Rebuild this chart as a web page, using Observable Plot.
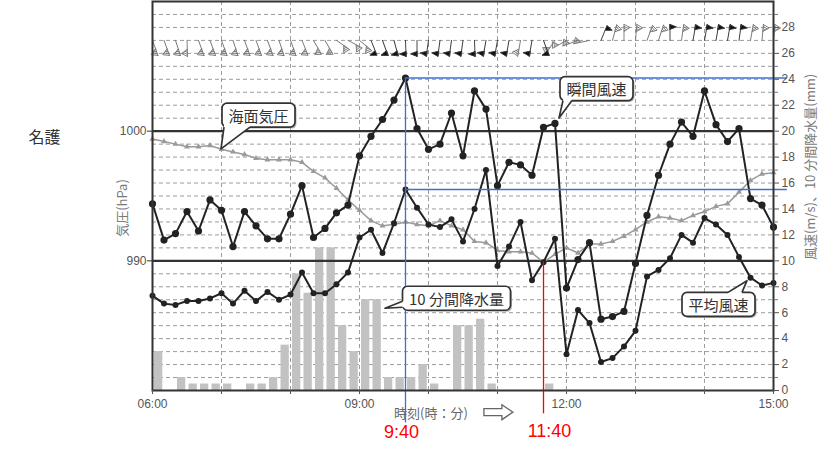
<!DOCTYPE html>
<html>
<head>
<meta charset="utf-8">
<script src="https://cdn.jsdelivr.net/npm/d3@7"></script>
<script src="https://cdn.jsdelivr.net/npm/@observablehq/plot@0.6"></script>
<style>
  body { margin: 0; background: #fff; }
  #chart svg { display: block; }
</style>
</head>
<body>
<div id="chart"></div>
<script>
// 名護: 10-minute observations, 06:00–15:00
const station = "名護";
const startHour = 6;
const stepMinutes = 10;

// sea-level pressure (hPa)
const pressure = [
  999.4, 999.2, 999.0, 998.8, 998.8, 998.9, 998.6, 998.4, 998.2, 997.9,
  997.8, 997.8, 997.8, 997.6, 996.9, 996.4, 995.6, 994.7, 993.9, 993.1,
  992.7, 992.8, 993.0, 992.8, 992.7, 993.1, 992.7, 992.4, 991.5, 991.4,
  990.8, 990.7, 990.7, 990.6, 989.9, 990.5, 991.0, 990.6, 991.3, 991.3,
  991.5, 991.9, 992.4, 993.0, 993.4, 993.3, 993.1, 993.5, 993.8, 994.2,
  994.4, 995.3, 996.2, 996.7, 996.8
];

// maximum instantaneous wind speed (m/s)
const gust = [
  14.4, 11.6, 12.1, 13.8, 12.3, 14.7, 13.9, 11.1, 13.8, 12.7,
  11.7, 11.7, 13.6, 15.8, 11.8, 12.5, 13.7, 14.3, 18.1, 19.6,
  20.9, 22.4, 24.1, 20.2, 18.6, 19.0, 21.4, 18.1, 23.1, 21.7,
  15.8, 17.6, 17.4, 16.6, 20.3, 20.6, 7.9, 10.1, 11.4, 5.5,
  5.7, 6.1, 9.8, 13.5, 16.6, 19.0, 20.7, 19.6, 23.1, 20.5,
  19.2, 20.2, 14.8, 14.3, 12.6
];

// 10-minute mean wind speed (m/s)
const meanWind = [
  7.3, 6.7, 6.6, 6.9, 6.9, 7.1, 7.5, 6.7, 7.7, 6.9,
  7.6, 7.0, 7.4, 9.1, 7.5, 7.5, 8.2, 9.1, 11.8, 12.4,
  10.6, 12.9, 15.5, 14.1, 12.8, 12.6, 13.2, 11.5, 14.0, 17.0,
  9.6, 11.1, 13.0, 8.5, 9.9, 11.7, 2.8, 6.2, 5.2, 2.2,
  2.5, 3.4, 4.6, 8.8, 9.3, 10.2, 12.0, 11.4, 13.3, 12.8,
  12.0, 10.3, 8.7, 8.1, 8.3
];

// 10-minute precipitation (mm), one value per interval between observations
const rain = [
  3.0, 0, 1.0, 0.5, 0.5, 0.5, 0.5, 0, 0.5, 0.5,
  1.0, 3.5, 9.0, 7.5, 11.0, 11.0, 5.0, 3.0, 7.0, 7.0,
  1.0, 1.0, 1.0, 2.0, 0.5, 0, 5.0, 5.0, 5.5, 0.5,
  0, 0, 0, 0, 0.5, 0, 0, 0, 0, 0,
  0, 0, 0, 0, 0, 0, 0, 0, 0, 0,
  0, 0, 0, 0
];

// wind barbs: staff direction (degrees clockwise from up) and pennant style (1 = solid)
const barbRotate = [
  160, 160, 162, 178, 160, 160, 160, 162, 160, 160,
  160, 162, 160, 158, 150, 150, 125, 118, 130, 158,
  160, 165, 178, 180, 188, 188, 188, 188, 178, 190,
  190, 190, 190, 190, 160, 215, 240, 250, 258, 22,
  15, 0, 5, 20, 18, 0, 8, 10, 10, 10,
  10, 8, 10, 5, 5
];
const barbFilled = [
  0, 0, 0, 0, 0, 0, 0, 0, 0, 0,
  0, 0, 0, 0, 0, 0, 0, 0, 0, 1,
  1, 1, 1, 1, 1, 1, 1, 1, 1, 1,
  1, 1, 0, 1, 1, 0, 0, 0, 0, 1,
  0, 0, 0, 0, 0, 1, 0, 1, 1, 1,
  1, 1, 0, 0, 0
];

const labeledHours = [6, 9, 12, 15];
const pressureTicks = [990, 1000];
const pressureOffset = 980;           // left scale = right scale + 980 hPa
const windTicks = d3.range(0, 29, 2);
const barbLevel = 27;                 // row of wind barbs on the right scale

const leftTitle = "気圧(hPa)";
const rightTitle = "風速(m/s)、10 分間降水量(mm)";
const xTitle = "時刻(時：分)";
const calloutText = {pressure: "海面気圧", gust: "瞬間風速", rain: "10 分間降水量", mean: "平均風速"};

// ---- derived tables -------------------------------------------------------
const at = (h, m = 0) => new Date(Date.UTC(2000, 0, 1, h, m));
const times = pressure.map((_, i) => at(startHour, i * stepMinutes));
const rows = times.map((time, i) => ({
  time, hPa: pressure[i], gust: gust[i], mean: meanWind[i],
  rot: barbRotate[i], filled: barbFilled[i]
}));
const rainRows = rain.map((mm, k) => ({start: times[k], end: times[k + 1], mm})).filter(d => d.mm > 0);
const hours = d3.range(startHour, startHour + 10).map(h => at(h));
const innerHours = hours.slice(1, -1);
const gridLevels = d3.range(1, 30).filter(v => !pressureTicks.includes(v + pressureOffset));

const iGust = d3.maxIndex(gust);         // peak gust
const iLow = d3.minIndex(pressure);      // pressure minimum
const fmtHM = d3.utcFormat("%-H:%M");

// guide lines: peak gust (with the mean wind at that time) and the pressure minimum
const peakDrops = [{x: times[iGust], y1: gust[iGust], y2: -2.5}];
const peakLevels = [gust[iGust], meanWind[iGust]].map(v => ({y: v, x1: times[iGust], x2: at(15, 12)}));
const lowDrops = [{x: times[iLow], y1: pressure[iLow] - pressureOffset, y2: -1.8}];

// ---- wind barb shapes (drawn pointing up, rotated by the vector mark) ----
const hatchBarb = {
  draw(ctx, l) {
    ctx.moveTo(0, 0); ctx.lineTo(0, -l);
    ctx.moveTo(0, -l); ctx.lineTo(6, -l + 3); ctx.lineTo(0, -l + 7);
    for (const k of [2, 4, 6]) {
      const t = 1 - k / 7;
      ctx.moveTo(0, -l + k); ctx.lineTo(6 * t, -l + k + 3 * t);
    }
  }
};
const flagBarb = {
  draw(ctx, l) {
    ctx.moveTo(0, 0); ctx.lineTo(0, -l);
    ctx.moveTo(0, -l); ctx.lineTo(6.5, -l + 2.5); ctx.lineTo(0, -l + 5); ctx.closePath();
  }
};

const ink = "#222";
const jp = "'Noto Sans CJK JP', sans-serif";
const gridStyle = {stroke: "#9c9c9c", strokeDasharray: "4,3", strokeWidth: 1};

const chart = Plot.plot({
  width: 840,
  height: 458,
  marginTop: 1,
  marginRight: 67,
  marginBottom: 68,
  marginLeft: 152,
  style: {background: "#fff", fontFamily: "'Liberation Sans', 'Noto Sans CJK JP', sans-serif", fontSize: "12px", color: "#555"},
  x: {type: "utc", domain: [times[0], times[times.length - 1]]},
  y: {domain: [0, 30]},
  marks: [
    // dashed grid
    Plot.ruleY(gridLevels, gridStyle),
    Plot.ruleX(innerHours, gridStyle),
    // 10-minute precipitation
    Plot.rectY(rainRows, {x1: "start", x2: "end", y: "mm", fill: "#c2c2c2", insetLeft: 2, insetRight: 1.2}),
    // reference pressure levels
    Plot.ruleY(pressureTicks.map(p => p - pressureOffset), {stroke: "#333", strokeWidth: 2.2}),
    // sea-level pressure
    Plot.line(rows, {x: "time", y: d => d.hPa - pressureOffset, stroke: "#9a9a9a", strokeWidth: 1.5}),
    Plot.dot(rows, {x: "time", y: d => d.hPa - pressureOffset, symbol: "triangle", r: 2.2, fill: "#9a9a9a"}),
    // mean wind
    Plot.line(rows, {x: "time", y: "mean", stroke: ink, strokeWidth: 2}),
    Plot.dot(rows, {x: "time", y: "mean", r: 3, fill: ink}),
    // peak gust
    Plot.line(rows, {x: "time", y: "gust", stroke: ink, strokeWidth: 2}),
    Plot.dot(rows, {x: "time", y: "gust", r: 3.6, fill: ink}),
    // wind barbs
    Plot.vector(rows.filter(d => !d.filled), {x: "time", y: barbLevel, rotate: "rot", length: 16, anchor: "start",
      shape: hatchBarb, stroke: "#777", strokeWidth: 0.9}),
    Plot.vector(rows.filter(d => d.filled), {x: "time", y: barbLevel, rotate: "rot", length: 16, anchor: "start",
      shape: flagBarb, stroke: "#333", fill: "#111", strokeWidth: 0.9}),
    // guide lines
    Plot.ruleX(peakDrops, {x: "x", y1: "y1", y2: "y2", stroke: "#3f6fd0", strokeWidth: 1.3}),
    Plot.ruleY(peakLevels, {y: "y", x1: "x1", x2: "x2", stroke: "#3f6fd0", strokeWidth: 1.3}),
    Plot.ruleX(lowDrops, {x: "x", y1: "y1", y2: "y2", stroke: "#ff0000", strokeWidth: 1.3}),
    Plot.text([times[iGust]], {x: d => d, text: fmtHM, frameAnchor: "bottom", textAnchor: "middle", lineAnchor: "middle",
      dx: -4, dy: 42, fill: "#ff0000", fontSize: 18}),
    Plot.text([times[iLow]], {x: d => d, text: fmtHM, frameAnchor: "bottom", textAnchor: "middle", lineAnchor: "middle",
      dx: 6, dy: 41, fill: "#ff0000", fontSize: 18}),
    // frame and axes
    Plot.frame({stroke: "#333", strokeWidth: 2}),
    Plot.axisY({anchor: "left", ticks: pressureTicks.map(p => p - pressureOffset), tickFormat: d => String(d + pressureOffset),
      tickSize: 5, tickPadding: 1, label: null, stroke: "#333"}),
    Plot.axisY({anchor: "right", ticks: windTicks, tickFormat: d => String(d), tickSize: 5, tickPadding: 3, label: null, stroke: "#555"}),
    Plot.axisY({anchor: "right", ticks: windTicks.map(v => v + 1), tickSize: 4, tickFormat: () => "", label: null, stroke: "#777"}),
    Plot.axisX({ticks: labeledHours.map(h => at(h)), tickFormat: "%H:%M", tickSize: 0, tickPadding: 9, label: null}),
    Plot.axisX({ticks: hours, tickSize: 4, tickFormat: () => "", label: null, stroke: "#555"}),
    // titles
    Plot.text([station], {text: d => d, frameAnchor: "top-left", textAnchor: "middle", lineAnchor: "middle",
      dx: -108, dy: 136, fontSize: 16, fill: "#333", fontFamily: jp}),
    Plot.text([leftTitle], {text: d => d, frameAnchor: "left", textAnchor: "middle", lineAnchor: "middle",
      dx: -30, dy: 12, rotate: -90, fontSize: 13, fill: "#7a7a7a", fontFamily: jp}),
    Plot.text([rightTitle], {text: d => d, frameAnchor: "right", textAnchor: "middle", lineAnchor: "middle",
      dx: 37, dy: -29, rotate: -90, fontSize: 13, fill: "#7a7a7a", fontFamily: jp}),
    Plot.text([xTitle], {text: d => d, frameAnchor: "bottom", textAnchor: "middle", lineAnchor: "middle",
      dx: -32, dy: 23, fontSize: 13, fill: "#666", fontFamily: jp})
  ]
});

document.getElementById("chart").append(chart);

// ---- callout labels, attached to points through the chart's scales -------
const sx = chart.scale("x"), sy = chart.scale("y");
const svg = d3.select(chart);
const layer = svg.append("g");

const callouts = [
  {label: calloutText.pressure, x: times[6], y: pressure[6] - pressureOffset, box: [37.5, -33.7], side: "bottom", a: 2, b: 28, tip: [0, 0]},
  {label: calloutText.gust, x: times[35], y: gust[35], box: [42, -34.3], side: "bottom", a: 3, b: 12, tip: [4.5, -5]},
  {label: calloutText.rain, x: times[20], y: rain[19], box: [74.5, -1], side: "left", a: 15, b: 21, tip: [3, 9]},
  {label: calloutText.mean, x: times[52], y: meanWind[52], box: [-31.5, 27.2], side: "top", a: 46, b: 60, tip: [-3, 3.5]}
];

for (const c of callouts) {
  const px = sx.apply(c.x), py = sy.apply(c.y);
  const cx = px + c.box[0], cy = py + c.box[1];
  const g = layer.append("g");
  const text = g.append("text")
    .attr("x", cx).attr("y", cy)
    .attr("text-anchor", "middle").attr("dominant-baseline", "central")
    .attr("font-family", jp).attr("font-size", 15).attr("fill", "#333")
    .text(c.label);
  const w = text.node().getComputedTextLength() + 13, h = 24;
  const x0 = cx - w / 2, y0 = cy - h / 2, x1 = x0 + w, y1 = y0 + h;
  const tx = px + c.tip[0], ty = py + c.tip[1];
  g.insert("rect", "text").attr("x", x0 + 1.5).attr("y", y0 + 1.5).attr("width", w).attr("height", h)
    .attr("rx", 5).attr("fill", "#b5b5b5");
  g.insert("rect", "text").attr("x", x0).attr("y", y0).attr("width", w).attr("height", h)
    .attr("rx", 5).attr("fill", "#fff").attr("stroke", "#333").attr("stroke-width", 1.7);
  let p1, p2, q1, q2;
  if (c.side === "bottom") { p1 = [x0 + c.a, y1]; p2 = [x0 + c.b, y1]; q1 = [x0 + c.a, y1 - 3]; q2 = [x0 + c.b, y1 - 3]; }
  if (c.side === "top") { p1 = [x0 + c.a, y0]; p2 = [x0 + c.b, y0]; q1 = [x0 + c.a, y0 + 3]; q2 = [x0 + c.b, y0 + 3]; }
  if (c.side === "left") { p1 = [x0, y0 + c.a]; p2 = [x0, y0 + c.b]; q1 = [x0 + 3, y0 + c.a]; q2 = [x0 + 3, y0 + c.b]; }
  g.insert("path", "text").attr("d", d3.line()([q1, p1, [tx, ty], p2, q2]) + "Z").attr("fill", "#fff");
  g.insert("path", "text").attr("d", d3.line()([p1, [tx, ty], p2])).attr("fill", "none")
    .attr("stroke", "#333").attr("stroke-width", 1.7).attr("stroke-linejoin", "round");
}

// outlined arrow after the time-axis title
const xt = svg.selectAll("text").filter(function () { return this.textContent === xTitle; });
if (!xt.empty()) {
  const r = xt.node().getBoundingClientRect(), s = chart.getBoundingClientRect();
  const ax = r.right - s.left + 16, ay = (r.top + r.bottom) / 2 - s.top;
  svg.append("path")
    .attr("d", d3.line()([[ax, ay - 3.5], [ax + 18, ay - 3.5], [ax + 18, ay - 7.5], [ax + 29, ay],
      [ax + 18, ay + 7.5], [ax + 18, ay + 3.5], [ax, ay + 3.5]]) + "Z")
    .attr("fill", "#fff").attr("stroke", "#666").attr("stroke-width", 1.3);
}
</script>
</body>
</html>
